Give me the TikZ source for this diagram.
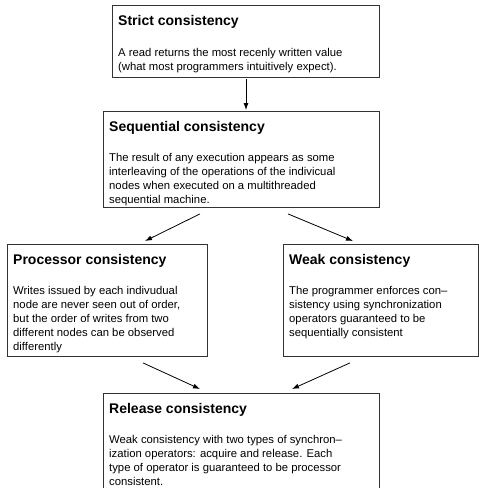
\documentclass[tikz,border=0pt]{standalone}
\usepackage{fontspec}
\setmainfont{Liberation Sans}
\usetikzlibrary{arrows.meta}
\begin{document}
\begin{tikzpicture}[x=1pt,y=-1pt,
  box/.style={draw=black!80, line width=0.9pt, inner sep=0pt, anchor=north west},
  ttl/.style={anchor=base west, inner sep=0pt, font=\fontsize{14}{16}\selectfont\bfseries},
  bdy/.style={anchor=base west, inner sep=0pt, font=\fontsize{11.3}{14}\selectfont},
  arr/.style={-{Latex[length=7pt,width=5pt]}, line width=0.8pt}]
\useasboundingbox (0,0) rectangle (479,488);
% boxes
\node[box, minimum width=267pt, minimum height=72pt] (strict) at (112,5) {};
\node[box, minimum width=276pt, minimum height=96pt] (seq) at (103,111) {};
\node[box, minimum width=200pt, minimum height=112pt] (proc) at (7,244) {};
\node[box, minimum width=195pt, minimum height=112pt] (weak) at (283,244) {};
\node[box, minimum width=276pt, minimum height=100pt] (rel) at (103,393) {};
% titles
\node[ttl] (strictT) at ([shift={(6,20)}]strict.north west) {Strict consistency};
\node[ttl] (seqT) at ([shift={(6,20)}]seq.north west) {Sequential consistency};
\node[ttl] (procT) at ([shift={(6,20)}]proc.north west) {Processor consistency};
\node[ttl] (weakT) at ([shift={(6,20)}]weak.north west) {Weak consistency};
\node[ttl] (relT) at ([shift={(6,20)}]rel.north west) {Release consistency};
% bodies
\node[bdy] (strictB) at ([shift={(6,51)}]strict.north west) {\begin{tabular}[t]{@{}l@{}}A read returns the most recenly written value\\(what most programmers intuitively expect).\end{tabular}};
\node[bdy] (seqB) at ([shift={(6,50)}]seq.north west) {\begin{tabular}[t]{@{}l@{}}The result of any execution appears as some\\interleaving of the operations of the indivicual\\nodes when executed on a multithreaded\\sequential machine.\end{tabular}};
\node[bdy] (procB) at ([shift={(6,50)}]proc.north west) {\begin{tabular}[t]{@{}l@{}}Writes issued by each indivudual\\node are never seen out of order,\\but the order of writes from two\\different nodes can be observed\\differently\end{tabular}};
\node[bdy] (weakB) at ([shift={(6,50)}]weak.north west) {\begin{tabular}[t]{@{}l@{}}The programmer enforces con–\\sistency using synchronization\\operators guaranteed to be\\sequentially consistent\end{tabular}};
\node[bdy] (relB) at ([shift={(6,50)}]rel.north west) {\begin{tabular}[t]{@{}l@{}}Weak consistency with two types of synchron–\\ization operators: acquire and release. Each\\type of operator is guaranteed to be processor\\consistent.\end{tabular}};
% arrows
\draw[arr] ([shift={(134,1)}]strict.south west) -- ([shift={(143,-1)}]seq.north west);
\draw[arr] ([shift={(97,6)}]seq.south west) -- ([shift={(138,-3)}]proc.north west);
\draw[arr] ([shift={(185,6)}]seq.south west) -- ([shift={(70,-3)}]weak.north west);
\draw[arr] ([shift={(136,6)}]proc.south west) -- ([shift={(97,-4)}]rel.north west);
\draw[arr] ([shift={(67,6)}]weak.south west) -- ([shift={(189,-4)}]rel.north west);
\end{tikzpicture}
\end{document}
